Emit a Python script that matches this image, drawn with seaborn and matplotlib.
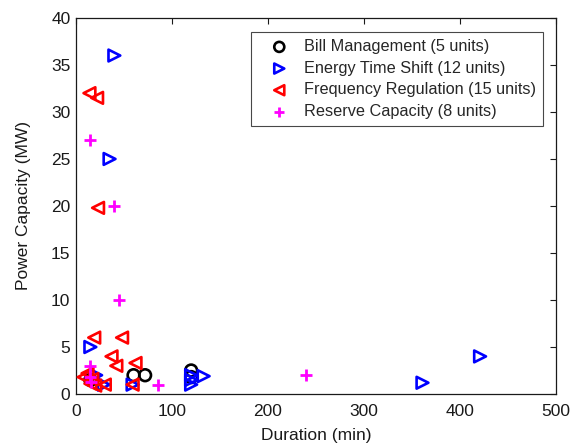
import matplotlib
matplotlib.use("Agg")
import matplotlib.pyplot as plt
import seaborn as sns
import pandas as pd

sns.set_style("white")
plt.rcParams['font.family'] = ['Liberation Sans', 'DejaVu Sans']

# Data
bill_x = [60, 72, 120, 120, 15]
bill_y = [2.0, 2.0, 2.5, 1.8, 1.5]

ets_x = [40, 35, 15, 21, 29, 59, 120, 120, 120, 133, 361, 421]
ets_y = [36, 25, 5.0, 2.0, 1.0, 1.0, 2.0, 1.5, 1.0, 1.9, 1.2, 4.0]

fr_x = [14, 22, 23, 19, 48, 37, 42, 62, 8, 15, 30, 59, 12, 17, 20]
fr_y = [32, 31.5, 19.8, 6.0, 6.0, 4.0, 3.0, 3.3, 1.8, 1.1, 1.0, 1.0, 2.2, 1.6, 0.9]

rc_x = [15, 40, 45, 15, 16, 85, 240, 15]
rc_y = [27, 20, 10, 3.0, 1.3, 1.0, 2.0, 1.8]

labels = ["Bill Management (5 units)", "Energy Time Shift (12 units)",
          "Frequency Regulation (15 units)", "Reserve Capacity (8 units)"]

series = [
    (bill_x, bill_y, labels[0], "o", "black"),
    (ets_x, ets_y, labels[1], ">", "#0000ff"),
    (fr_x, fr_y, labels[2], "<", "#ff0000"),
    (rc_x, rc_y, labels[3], "+", "#ff00ff"),
]

txt = "#1a1a1a"

fig = plt.figure(figsize=(5.7, 4.48), dpi=100)
ax = fig.add_axes([0.1333, 0.1205, 0.842, 0.8395])

for xs, ys, lab, mk, col in series:
    df = pd.DataFrame({"x": xs, "y": ys})
    if mk == "+":
        sns.scatterplot(data=df, x="x", y="y", ax=ax, marker="+", s=85,
                        color=col, linewidth=2.0, label=lab, zorder=3)
    else:
        sns.scatterplot(data=df, x="x", y="y", ax=ax, marker=mk, s=72,
                        color=col, facecolor="none", edgecolor=col,
                        linewidth=1.9, label=lab, zorder=3)

ax.set_xlim(0, 500)
ax.set_ylim(0, 40)
ax.set_xticks([0, 100, 200, 300, 400, 500])
ax.set_yticks(range(0, 41, 5))
ax.tick_params(direction="in", top=True, right=True, length=4, width=0.8,
               labelsize=12.5, colors=txt, pad=4)
ax.tick_params(axis="x", pad=7)
for sp in ax.spines.values():
    sp.set_color(txt)
    sp.set_linewidth(0.9)
ax.set_xlabel("Duration (min)", fontsize=12.5, color=txt, labelpad=7)
ax.set_ylabel("Power Capacity (MW)", fontsize=12.5, color=txt, labelpad=14)

leg = ax.legend(loc="upper right", bbox_to_anchor=(0.973, 0.963), fontsize=11.7,
                frameon=True, fancybox=False, edgecolor=txt,
                borderpad=0.45, handletextpad=0.2, labelspacing=0.41,
                borderaxespad=0.0, handlelength=2.6, markerscale=0.85)
leg.get_frame().set_linewidth(0.8)

fig.savefig("out.png", dpi=100)
